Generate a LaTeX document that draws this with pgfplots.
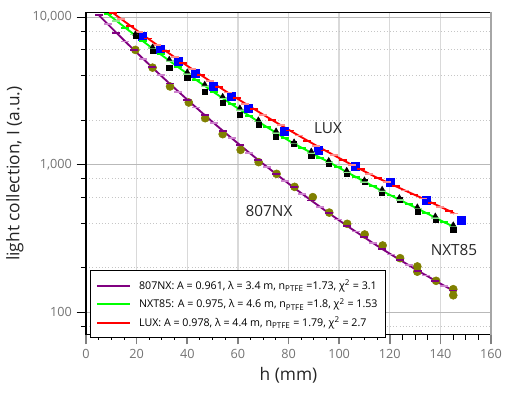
\documentclass[border=0pt]{standalone}
\usepackage{fontspec}
\setmainfont{Open Sans}
\usepackage{pgfplots}
\usepackage{pgfplotstable}
\pgfplotsset{compat=1.18}

\definecolor{fitpurple}{RGB}{128,0,128}
\definecolor{cappurple}{RGB}{205,130,205}
\definecolor{fitgreen}{RGB}{0,255,0}
\definecolor{capgreen}{RGB}{140,235,140}
\definecolor{fitred}{RGB}{255,0,0}
\definecolor{capred}{RGB}{255,140,140}
\definecolor{datolive}{RGB}{128,128,0}

% measured points
\pgfplotstableread{
x y
19.5 6000
26.3 4550
33.2 3390
40.6 2640
47.1 2065
54.0 1610
61.1 1259
68.2 1040
75.3 866
82.4 707
89.6 602
96.1 473
103.2 397
110.1 336
117.2 283
124.1 232
130.9 204
130.9 188
138.3 163
145.1 143
145.1 130
}\nxdata

\pgfplotstableread{
x y
19.5 7500
26.3 5940
32.9 4550
40.0 3860
46.9 3100
54.0 2610
60.8 2180
68.1 1860
75.1 1550
82.2 1380
89.0 1150
95.9 1010
103.0 866
110.0 768
117.0 641
123.8 577
130.9 481
138.0 422
145.1 361
}\nxtdata

\pgfplotstableread{
x y
19.5 7700
26.3 6300
32.9 5200
40.0 4270
46.9 3520
54.0 2910
60.8 2430
68.1 2020
75.1 1700
82.2 1430
89.0 1240
95.9 1070
103.0 918
110.0 790
117.0 683
123.8 600
130.9 519
138.0 450
145.1 392
}\nxtsim

\pgfplotstableread{
x y
22.1 7390
29.5 6070
36.3 5000
43.2 4170
50.3 3420
57.2 2900
64.3 2420
78.2 1690
91.9 1260
106.3 982
120.2 757
134.3 577
148.3 418
}\luxdata

% fitted curves
\pgfplotstableread{
x y
5 10350
8.5 9010
12 7850
15.5 6840
19 5980
22.5 5240
26 4590
29.5 4030
33 3550
36.5 3130
40 2760
43.5 2440
47 2160
50.5 1915
54 1700
57.5 1515
61 1350
64.5 1205
68 1078
71.5 966
75 867
78.5 779
82 701
85.5 632
89 571
92.5 517
96 468
99.5 425
103 386
106.5 352
110 321
113.5 293
117 268
120.5 246
124 226
127.5 208
131 191
134.5 177
138 163
141.5 151
145 140
}\fitnx

\pgfplotstableread{
x y
8.5 10540
12 9460
15.5 8490
19 7636
22.5 6875
26 6197
29.5 5593
33 5055
36.5 4574
40 4143
43.5 3756
47 3411
50.5 3101
54 2823
57.5 2573
61 2349
64.5 2145
68 1963
71.5 1797
75 1649
78.5 1514
82 1391
85.5 1296
89 1202
92.5 1114
96 1041
99.5 963
103 891
106.5 827
110 767
113.5 713
117 663
120.5 618
124 576
127.5 538
131 504
134.5 469
138 437
141.5 407
145 381
}\fitnxt

\pgfplotstableread{
x y
10.5 10740
14 9694
17.5 8756
21 7916
24.5 7167
28 6496
31.5 5896
35 5356
38.5 4870
42 4436
45.5 4043
49 3689
52.5 3371
56 3083
59.5 2823
63 2589
66.5 2376
70 2183
73.5 2009
77 1850
80.5 1706
84 1575
87.5 1455
91 1346
94.5 1247
98 1157
101.5 1074
105 998
108.5 929
112 865
115.5 807
119 760
122.5 712
126 668
129.5 628
133 590
136.5 553
140 518
143.5 486
145.5 466
}\fitlux

\begin{document}
\begin{tikzpicture}
\begin{axis}[
  name=ax,
  scale only axis,
  width=303.75pt, height=242pt,
  xmin=0, xmax=160,
  ymode=log, ymin=70, ymax=10800,
  xtick={0,20,...,160},
  minor x tick num=3,
  ytick={100,1000,10000},
  yticklabels={100,{1,000},{10,000}},
  minor ytick={80,200,400,600,800,2000,4000,6000,8000},
  xtick pos=left, ytick pos=left,
  tick align=outside,
  major tick length=7pt, minor tick length=3.75pt,
  major x tick style={gray, line width=1.2pt},
  minor x tick style={black, line width=0.7pt},
  ytick style={black, line width=0.7pt},
  xmajorgrids, ymajorgrids, yminorgrids,
  major x grid style={gray!30, line width=1.1pt},
  major y grid style={gray!55, line width=0.5pt},
  minor y grid style={gray!45, dotted, line width=0.7pt},
  axis line style={black, line width=0.8pt},
  tick label style={font=\fontsize{9.5}{11}\selectfont, text=black!55},
  /pgf/number format/assume math mode=true,
  xlabel={h (mm)},
  ylabel={light collection, I (a.u.)},
  label style={font=\fontsize{13}{15}\selectfont, text=black!85},
  legend style={at={(0.01,0.201)}, anchor=north west,
    font=\fontsize{8}{9}\selectfont, draw=black, line width=0.8pt,
    inner xsep=4pt, inner ysep=5pt, row sep=1.2pt,
    /tikz/every odd column/.append style={column sep=4pt}},
  legend cell align=left,
  legend image code/.code={\draw[#1, line width=1.4pt] (0pt,0pt) -- (25pt,0pt);},
]
% data
\addplot[only marks, mark=*, mark size=3pt, datolive, forget plot] table {\nxdata};
\addplot[only marks, mark=square*, mark size=3pt, blue, forget plot] table {\luxdata};
\addplot[only marks, mark=square*, mark size=1.9pt, black, forget plot] table {\nxtdata};

% fits with caps
\addplot[fitpurple, line width=1.4pt, mark=-, mark size=3pt, mark repeat=2, mark phase=1, forget plot] table {\fitnx};
\addplot[only marks, cappurple, line width=1.4pt, mark=-, mark size=3pt, mark repeat=2, mark phase=2, forget plot] table {\fitnx};
\addplot[fitgreen, line width=1.4pt, mark=-, mark size=3pt, mark repeat=2, mark phase=1, forget plot] table {\fitnxt};
\addplot[only marks, capgreen, line width=1.4pt, mark=-, mark size=3pt, mark repeat=2, mark phase=2, forget plot] table {\fitnxt};
\addplot[fitred, line width=1.4pt, mark=-, mark size=3pt, mark repeat=2, mark phase=1, forget plot] table {\fitlux};
\addplot[only marks, capred, line width=1.4pt, mark=-, mark size=3pt, mark repeat=2, mark phase=2, forget plot] table {\fitlux};

\addplot[only marks, mark=triangle*, mark size=2.1pt, black, forget plot] table {\nxtsim};

\addlegendimage{fitpurple}
\addlegendentry{807NX: A = 0.961, λ = 3.4 m, n\textsubscript{PTFE} =1.73, χ\textsuperscript{2} = 3.1}
\addlegendimage{fitgreen}
\addlegendentry{NXT85: A = 0.975, λ = 4.6 m, n\textsubscript{PTFE} =1.8, χ\textsuperscript{2} = 1.53}
\addlegendimage{fitred}
\addlegendentry{LUX: A = 0.978, λ = 4.4 m, n\textsubscript{PTFE} = 1.79, χ\textsuperscript{2} = 2.7}

\node[font=\fontsize{11.5}{13}\selectfont, text=black!85] at (axis cs:95.6,1775) {LUX};
\node[font=\fontsize{11.5}{13}\selectfont, text=black!85] at (axis cs:72.3,486) {807NX};
\node[font=\fontsize{11.5}{13}\selectfont, text=black!85] at (axis cs:145.4,264) {NXT85};
\end{axis}
\draw[gray!70, line width=1.2pt] (ax.south east) -- (ax.north east);
\pgfresetboundingbox
\path[use as bounding box] ([xshift=-64.5pt,yshift=-48pt]ax.south west) rectangle ([xshift=12.75pt,yshift=9.2pt]ax.north east);
\end{tikzpicture}
\end{document}
